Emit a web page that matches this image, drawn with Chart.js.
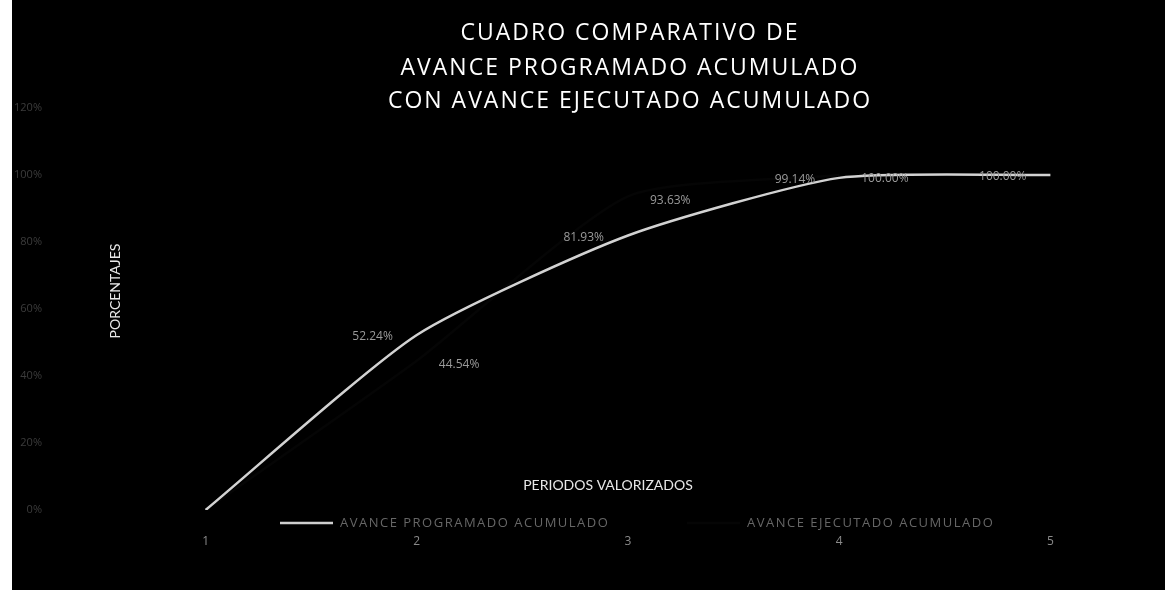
<!DOCTYPE html>
<html>
<head>
<meta charset="utf-8">
<script src="https://cdn.jsdelivr.net/npm/chart.js@4.4.1/dist/chart.umd.min.js"></script>
<style>
  html, body { margin: 0; padding: 0; background: #ffffff; width: 1168px; height: 598px; overflow: hidden; }
  #box { position: absolute; left: 12px; top: 0px; width: 1153px; height: 590px; background: #000000; }
  canvas { display: block; }
</style>
</head>
<body>
<div id="box"><canvas id="c" width="1153" height="590"></canvas></div>
<script>
// ---- data ----
const periods = ['1', '2', '3', '4', '5'];
const programado = [0, 52.24, 81.93, 99.14, 100];
const ejecutado = [0, 44.54, 93.63, 100, null];
const seriesNames = ['AVANCE PROGRAMADO ACUMULADO', 'AVANCE EJECUTADO ACUMULADO'];
const yTicks = [0, 20, 40, 60, 80, 100, 120];
const titleLines = ['CUADRO COMPARATIVO DE', 'AVANCE PROGRAMADO ACUMULADO', 'CON AVANCE EJECUTADO ACUMULADO'];
const yTitle = 'PORCENTAJES';
const xTitle = 'PERIODOS VALORIZADOS';

const decor = {
  id: 'decor',
  afterDatasetsDraw(chart) {
    const ctx = chart.ctx;
    chart.data.datasets.forEach((ds, i) => {
      const meta = chart.getDatasetMeta(i);
      meta.data.forEach((pt, j) => {
        const v = ds.data[j];
        if (v === null || v === 0) return;
        ctx.save();
        ctx.font = '12px "Open Sans"';
        ctx.fillStyle = '#9a9a9a';
        ctx.textBaseline = 'middle';
        if (i === 0) { ctx.textAlign = 'right'; ctx.fillText(v.toFixed(2) + '%', pt.x - 24, pt.y + 2); }
        else { ctx.textAlign = 'left'; ctx.fillText(v.toFixed(2) + '%', pt.x + 22, pt.y + 4); }
        ctx.restore();
      });
    });
  },
  afterDraw(chart) {
    const ctx = chart.ctx;
    const ca = chart.chartArea;
    const cx = (ca.left + ca.right) / 2;
    // title
    ctx.save();
    ctx.fillStyle = '#ffffff';
    ctx.font = '23px "Open Sans"';
    ctx.letterSpacing = '2px';
    ctx.textAlign = 'center';
    ctx.textBaseline = 'middle';
    const ty = [33, 68, 101];
    titleLines.forEach((t, k) => ctx.fillText(t, cx + 2, ty[k]));
    ctx.restore();
    // y axis title (inside plot)
    ctx.save();
    ctx.fillStyle = '#e8e8e8';
    ctx.font = '14px Lato';
    ctx.translate(ca.left + 15, 291);
    ctx.rotate(-Math.PI / 2);
    ctx.textAlign = 'center';
    ctx.textBaseline = 'middle';
    ctx.fillText(yTitle, 0, 0);
    ctx.restore();
    // x axis title
    ctx.save();
    ctx.fillStyle = '#e8e8e8';
    ctx.font = '14px Lato';
    ctx.textAlign = 'center';
    ctx.textBaseline = 'middle';
    ctx.fillText(xTitle, 596, 485);
    ctx.restore();
    // legend
    const items = [
      { x0: 268, color: '#cfcfcf' },
      { x0: 675, color: '#050505' }
    ];
    items.forEach((it, k) => {
      ctx.save();
      ctx.strokeStyle = it.color;
      ctx.lineWidth = 2.5;
      ctx.beginPath();
      ctx.moveTo(it.x0, 523);
      ctx.lineTo(it.x0 + 53, 523);
      ctx.stroke();
      ctx.fillStyle = '#666666';
      ctx.font = '13px "Open Sans"';
      ctx.letterSpacing = '1.5px';
      ctx.textAlign = 'left';
      ctx.textBaseline = 'middle';
      ctx.fillText(chart.data.datasets[k].label, it.x0 + 60, 523);
      ctx.restore();
    });
  }
};

new Chart(document.getElementById('c'), {
  type: 'line',
  data: {
    labels: periods,
    datasets: [
      { label: seriesNames[0], data: programado, borderColor: '#d2d2d2', borderWidth: 2.5, pointRadius: 0, tension: 0.2, fill: false },
      { label: seriesNames[1], data: ejecutado, borderColor: '#050505', borderWidth: 2.5, pointRadius: 0, tension: 0.2, fill: false }
    ]
  },
  options: {
    responsive: false,
    animation: false,
    layout: { padding: { top: 108, right: 9, left: 0, bottom: 0 } },
    plugins: { legend: { display: false }, title: { display: false }, tooltip: { enabled: false } },
    scales: {
      x: {
        offset: true,
        grid: { display: false, drawTicks: false },
        border: { display: false },
        ticks: { color: '#8a8a8a', font: { family: 'Open Sans', size: 12 }, padding: 24 },
        afterFit: (s) => { s.height = 80; }
      },
      y: {
        min: 0, max: 120,
        afterBuildTicks: (s) => { s.ticks = yTicks.map(v => ({ value: v })); },
        grid: { display: false, drawTicks: false },
        border: { display: false },
        ticks: { color: '#3c3c3c', font: { family: 'Open Sans', size: 11 }, padding: 58, callback: (v) => v + '%' },
        afterFit: (s) => { s.width = 88; }
      }
    }
  },
  plugins: [decor]
});
</script>
</body>
</html>
